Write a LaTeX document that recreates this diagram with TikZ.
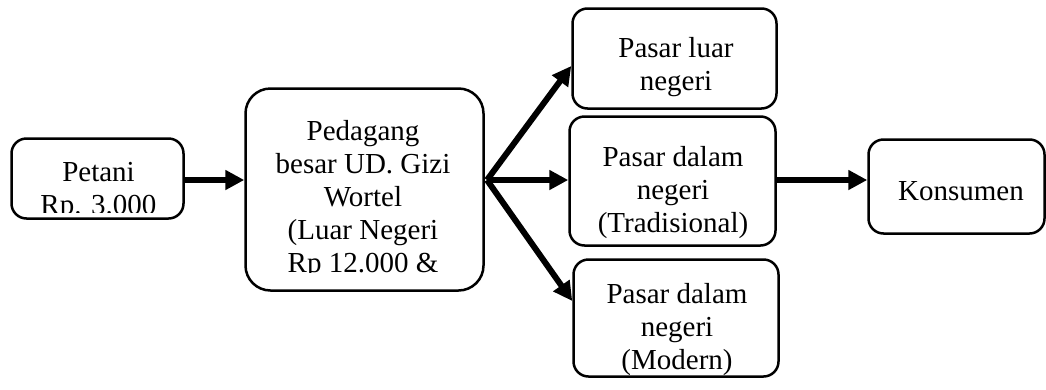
\documentclass[tikz,border=0pt]{standalone}
\usepackage{fontspec}
\setmainfont{Liberation Serif}
\usetikzlibrary{arrows.meta,fit}
\begin{document}
\begin{tikzpicture}[x=1pt,y=-1pt,
  box/.style={draw, line width=2.5pt, rounded corners=15pt, inner sep=0pt},
  txt/.style={align=center, font=\fontsize{29}{33}\selectfont, inner sep=0pt},
  arr/.style={line width=6pt, -{Triangle[length=19pt,width=19pt]}}]
\useasboundingbox (0,0) rectangle (1046,389);
% boxes
\node[box, fit={(11.5,138.5) (183.5,218.5)}] (petani) {};
\node[box, rounded corners=25pt, fit={(245.5,88.5) (483.5,290.5)}] (pedagang) {};
\node[box, fit={(572.5,8.5) (776.5,108.5)}] (luar) {};
\node[box, fit={(569.5,116.5) (775.5,245.5)}] (trad) {};
\node[box, fit={(573.5,259.5) (778.5,376.5)}] (modern) {};
\node[box, fit={(868.5,139.5) (1044.5,233.5)}] (konsumen) {};
% texts
\begin{scope}
\clip (12,139) rectangle (183,212);
\node[txt] (tpetani) at (98.5,191) {Petani\\Rp. 3.000};
\end{scope}
\begin{scope}
\clip (246,89) rectangle (483,272);
\node[txt] (tpedagang) at (363,200) {Pedagang\\besar UD. Gizi\\Wortel\\(Luar Negeri\\Rp 12.000 \&};
\end{scope}
\node[txt] (tluar) at (676,67) {Pasar luar\\negeri};
\node[txt] (ttrad) at (673,193) {Pasar dalam\\negeri\\(Tradisional)};
\node[txt] (tmodern) at (677,330) {Pasar dalam\\negeri\\(Modern)};
\node[txt] (tkonsumen) at (961,191) {Konsumen};
% connectors
\coordinate (axis) at (0,180);
\coordinate (fan) at (487,180);
\draw[arr] (petani.east |- axis) -- (pedagang.west |- axis);
\draw[arr] (fan) -- (trad.west |- axis);
\draw[arr] (fan) -- ([yshift=-7.5pt]luar.west);
\draw[arr] (fan) -- ([yshift=17pt]modern.west);
\draw[arr] (trad.east |- axis) -- (konsumen.west |- axis);
\end{tikzpicture}
\end{document}
